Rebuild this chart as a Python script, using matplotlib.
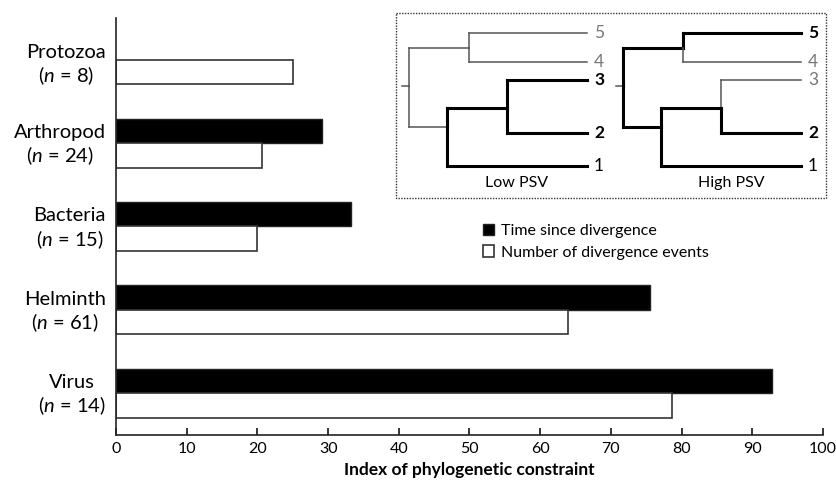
import numpy as np
import matplotlib
matplotlib.use("Agg")
import matplotlib.pyplot as plt
from matplotlib.patches import Rectangle

# ---------------- data ----------------
categories = ["Protozoa", "Arthropod", "Bacteria", "Helminth", "Virus"]
sample_sizes = [8, 24, 15, 61, 14]
time_since_divergence = [np.nan, 29.2, 33.3, 75.5, 92.8]
number_of_divergence_events = [25.0, 20.7, 19.9, 63.9, 78.6]
series_labels = ["Time since divergence", "Number of divergence events"]
x_ticks = [0, 10, 20, 30, 40, 50, 60, 70, 80, 90, 100]
x_label = "Index of phylogenetic constraint"
tree_titles = ["Low PSV", "High PSV"]
tip_names = ["1", "2", "3", "4", "5"]

plt.rcParams['font.family'] = ['Lato', 'DejaVu Sans']
plt.rcParams['mathtext.fontset'] = 'custom'
plt.rcParams['mathtext.rm'] = 'Lato'
plt.rcParams['mathtext.it'] = 'Lato:italic'

W, H = 837, 484
fig = plt.figure(figsize=(W / 100, H / 100), dpi=100)
ax = fig.add_axes([116 / W, 1 - 435 / H, (823 - 116) / W, (435 - 18) / H])

y = np.arange(len(categories))
h = 0.293
ax.barh(y - h / 2, time_since_divergence, height=h, color='black',
        edgecolor='#222222', linewidth=1.0, label=series_labels[0])
ax.barh(y + h / 2, number_of_divergence_events, height=h, color='white',
        edgecolor='#333333', linewidth=1.2, label=series_labels[1])

ax.set_xlim(0, 100)
ax.set_ylim(len(categories) - 0.5, -0.5)
ax.set_xticks(x_ticks)
ax.set_yticks([])
ax.tick_params(axis='x', direction='in', length=5, width=1.1, labelsize=11.5, pad=5)
for s in ['top', 'right']:
    ax.spines[s].set_visible(False)
for s in ['left', 'bottom']:
    ax.spines[s].set_linewidth(1.2)
    ax.spines[s].set_color('#222222')
ax.set_xlabel(x_label, fontsize=12.5, fontweight='bold', labelpad=4)

for i, (c, n) in enumerate(zip(categories, sample_sizes)):
    dy = 0.07 if i == 0 else 0.03
    ax.text(-1.45, i + dy, f"{c}\n($\\it{{n}}$ = {n})", ha='right', va='center',
            multialignment='center', fontsize=14.5, linespacing=1.2)

ax.legend(loc='upper left', bbox_to_anchor=(483 / W, 1 - 224 / H),
          bbox_transform=fig.transFigure, frameon=False, fontsize=11.5,
          handlelength=0.72, handleheight=0.72, handletextpad=0.4,
          labelspacing=0.45, borderpad=0, borderaxespad=0)

# ---------------- inset phylogeny diagram ----------------
ov = fig.add_axes([0, 0, 1, 1], facecolor='none')
ov.set_xlim(0, W)
ov.set_ylim(H, 0)
ov.axis('off')

ov.add_patch(Rectangle((396, 13), 826 - 396, 198 - 13, fill=False,
                       linestyle=(0, (1, 1)), linewidth=1, edgecolor='#333333'))

tip_y = [166, 133, 80, 62, 33]  # tips 1..5
segs = {
    'stub': ((402, 86), (409, 86)),
    'root_v_up': ((409, 48), (409, 86)),
    'root_v_dn': ((409, 86), (409, 127)),
    'root_to_45': ((409, 48), (469, 48)),
    'n45_v_up': ((469, 33), (469, 48)),
    'n45_v_dn': ((469, 48), (469, 62)),
    'tip5': ((469, 33), (587, 33)),
    'tip4': ((469, 62), (587, 62)),
    'root_to_123': ((409, 127), (447, 127)),
    'n123_v_up': ((447, 108), (447, 127)),
    'n123_v_dn': ((447, 127), (447, 166)),
    'n123_to_23': ((447, 108), (507, 108)),
    'n23_v_up': ((507, 80), (507, 108)),
    'n23_v_dn': ((507, 108), (507, 133)),
    'tip3': ((507, 80), (587, 80)),
    'tip2': ((507, 133), (587, 133)),
    'tip1': ((447, 166), (587, 166)),
}
thick_sets = [
    {'n123_v_up', 'n123_v_dn', 'n123_to_23', 'n23_v_up', 'n23_v_dn', 'tip3', 'tip2', 'tip1'},
    {'root_v_up', 'root_v_dn', 'root_to_45', 'n45_v_up', 'tip5', 'root_to_123',
     'n123_v_up', 'n123_v_dn', 'n123_to_23', 'n23_v_dn', 'tip2', 'tip1'},
]
bold_tips = [{1, 2}, {1, 4}]
black_tips = [{0, 1, 2}, {0, 1, 4}]
offsets = [0, 214]
for k in range(2):
    dx = offsets[k]
    for name, ((x0, y0), (x1, y1)) in segs.items():
        thick = name in thick_sets[k]
        ov.plot([x0 + dx, x1 + dx], [y0, y1], color='black' if thick else '#555555',
                lw=2.2 if thick else 1.1, solid_capstyle='projecting')
    for t, ty in enumerate(tip_y):
        blk = t in black_tips[k]
        ov.text(594 + dx, ty, tip_names[t], ha='left', va='center', fontsize=12.5,
                color='black' if blk else '#777777',
                fontweight='bold' if t in bold_tips[k] else 'normal')
    ov.text(517 + dx, 183, tree_titles[k], ha='center', va='center', fontsize=11.5)

fig.savefig("out.png", dpi=100)
